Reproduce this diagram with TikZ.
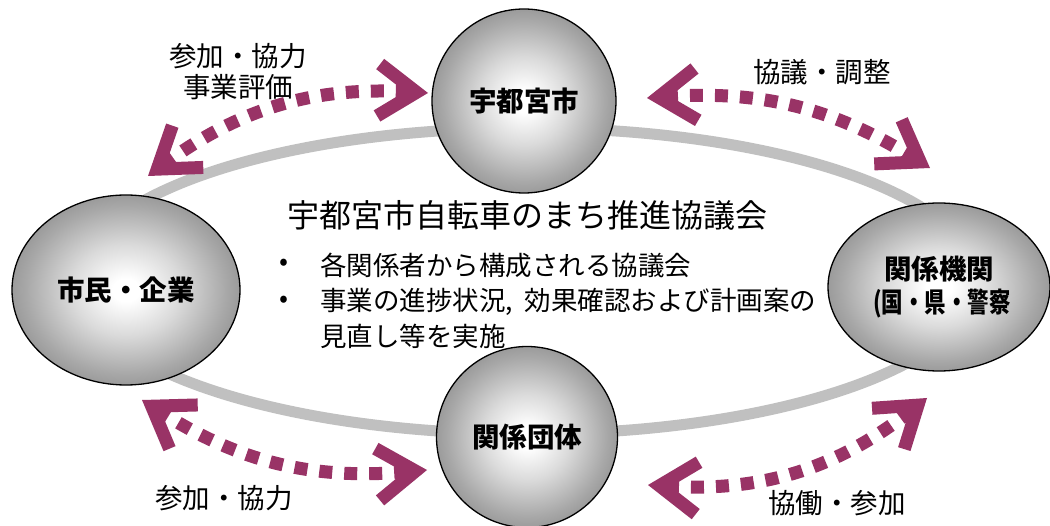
\documentclass[tikz,border=0pt]{standalone}
\usepackage{fontspec}
\setmainfont{Noto Sans CJK JP}
\usetikzlibrary{arrows.meta,shapes.geometric}
\definecolor{arrowc}{RGB}{153,51,102}
\definecolor{ringc}{RGB}{192,192,192}
\definecolor{sphA}{RGB}{218,218,218}
\definecolor{sphM}{RGB}{168,168,168}
\definecolor{sphB}{RGB}{112,112,112}
\definecolor{sphC}{RGB}{100,100,100}
\pgfdeclareradialshading{sphereshade}{\pgfpoint{0bp}{0bp}}{color(0bp)=(white); color(3bp)=(white); color(12bp)=(sphA); color(22bp)=(sphM); color(35bp)=(sphB); color(50bp)=(sphC)}
\tikzset{
  chev/.tip={Straight Barb[length=38pt,width=52pt,sharp]},
  sphere/.style={draw=black, line width=1.3pt, shading=sphereshade, inner sep=0pt,
    font=\fontsize{27.5}{33}\selectfont\bfseries},
  arr/.style={draw=arrowc, line width=13pt, dash pattern=on 13pt off 12pt, arrows=chev-chev},
  lbl/.style={inner sep=0pt, align=center, font=\fontsize{27.5}{31}\selectfont},
  body/.style={inner sep=0pt, anchor=west, font=\fontsize{26.5}{30}\selectfont},
}
\begin{document}
\begin{tikzpicture}[x=1pt,y=-1pt]
\useasboundingbox (0,0) rectangle (1050,526);
\fill[white] (0,0) rectangle (1050,526);
% ring
\draw[ringc, line width=11pt] (527,281) ellipse [x radius=450, y radius=153];
% spheres
\node[sphere, circle, minimum size=184pt] (city) at (524,101) {宇都宮市};
\node[sphere, ellipse, minimum width=228pt, minimum height=190pt] (citizen) at (126,290) {市民・企業};
\node[sphere, ellipse, minimum width=222pt, minimum height=168pt, align=center] (agency) at (939,287) {関係機関\\\hspace*{6pt}\scalebox{0.78}[1]{(国・県・警察}};
\node[sphere, circle, minimum size=181pt] (groups) at (527,437) {関係団体};
% center text
\node[inner sep=0pt, anchor=west, font=\fontsize{32}{36}\selectfont] (title) at (287,215) {宇都宮市自転車のまち推進協議会};
\node[body] (b1) at (279,265) {•};
\node[body] (t1) at (320,265) {各関係者から構成される協議会};
\node[body] (b2) at (279,302) {•};
\node[body] (t2) at (320,302) {事業の進捗状況,\hspace{0.45em}効果確認および計画案の};
\node[body] (t3) at (320,336) {見直し等を実施};
% arrow end points
\coordinate (a1s) at (148,176);
\coordinate (a1e) at (428,93);
\coordinate (a2s) at (647,98);
\coordinate (a2e) at (930,168);
\coordinate (a3s) at (142,400);
\coordinate (a3e) at (427,470);
\coordinate (a4s) at (648,485);
\coordinate (a4e) at (927,398);
\draw[arr] (a1s) to[bend left=20] (a1e);
\draw[arr] (a2s) to[bend left=18] (a2e);
\draw[arr] (a3s) to[bend right=19] (a3e);
\draw[arr] (a4s) to[bend right=21] (a4e);
% labels
\node[lbl] (l1) at (238,72) {参加・協力\\事業評価};
\node[lbl] (l2) at (822,72) {協議・調整};
\node[lbl] (l3) at (224,498) {参加・協力};
\node[lbl] (l4) at (837,503) {協働・参加};
\end{tikzpicture}
\end{document}
